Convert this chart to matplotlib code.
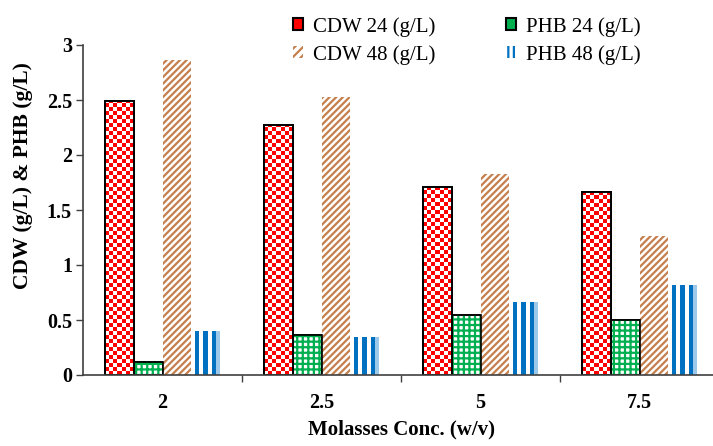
import numpy as np
import matplotlib
matplotlib.use("Agg")
import matplotlib.pyplot as plt
from matplotlib.patches import Patch

# Data
categories = ["2", "2.5", "5", "7.5"]
cdw_24 = [2.49, 2.27, 1.71, 1.66]
phb_24 = [0.12, 0.36, 0.55, 0.50]
cdw_48 = [2.86, 2.53, 1.83, 1.26]
phb_48 = [0.40, 0.35, 0.66, 0.82]
series_labels = ["CDW 24 (g/L)", "PHB 24 (g/L)", "CDW 48 (g/L)", "PHB 48 (g/L)"]
y_ticks = [0, 0.5, 1, 1.5, 2, 2.5, 3]
y_tick_labels = ["0", "0.5", "1", "1.5", "2", "2.5", "3"]

RED = "#FF0000"
GREEN = "#00B050"
BROWN = "#C47F4C"
BLUE = "#0070C0"
LIGHT_BLUE = "#9CC8EA"

plt.rcParams["font.family"] = ["Liberation Serif", "DejaVu Serif"]
plt.rcParams["hatch.linewidth"] = 1.6

fig = plt.figure(figsize=(7.13, 4.46), dpi=100)
W, H = 713, 446
ax = fig.add_axes([83 / W, 71 / H, 636 / W, 330 / H])

x = np.arange(len(categories))
w = 0.181
ax.set_xlim(-0.5, 3.5)
ax.set_ylim(0, 3)


def hex_rgb(c):
    c = c.lstrip("#")
    return [int(c[i:i + 2], 16) / 255 for i in (0, 2, 4)]


def texture(bar, rgb, row_h, zorder):
    """Fill a bar with an RGB tile pattern, clipped to the bar outline."""
    bx, bw = bar.get_x(), bar.get_width()
    nrows = rgb.shape[0]
    im = ax.imshow(rgb, extent=(bx, bx + bw, 0, nrows * row_h),
                   origin="lower", interpolation="nearest", aspect="auto",
                   zorder=zorder)
    im.set_clip_path(bar)


# CDW 24: red checkerboard with black outline
bars_cdw24 = ax.bar(x - 1.5 * w, cdw_24, w, facecolor="white",
                    edgecolor="black", linewidth=1.4, zorder=3)
cell_y = 4.0 / 110.0
for b in bars_cdw24:
    nrows = int(np.ceil(b.get_height() / cell_y)) + 1
    ii, jj = np.indices((nrows, 7))
    rgb = np.ones((nrows, 7, 3))
    rgb[(ii + jj) % 2 == 1] = hex_rgb(RED)
    texture(b, rgb, cell_y, 3.5)
ax.bar(x - 1.5 * w, cdw_24, w, facecolor="none", edgecolor="black",
       linewidth=1.4, zorder=4)

# PHB 24: green grid with black outline
ax.bar(x - 0.5 * w, phb_24, w, facecolor="white", edgecolor="black",
       linewidth=1.2, zorder=3)
ax.bar(x - 0.5 * w, phb_24, w, facecolor="none", edgecolor=GREEN,
       hatch="+++", linewidth=0, zorder=3.2)
ax.bar(x - 0.5 * w, phb_24, w, facecolor="none", edgecolor="black",
       linewidth=1.2, zorder=3.4)

# CDW 48: brown diagonal hatching
ax.bar(x + 0.5 * w, cdw_48, w, facecolor="white", edgecolor=BROWN,
       hatch="/////", linewidth=0, zorder=3)

# PHB 48: blue vertical stripes
bars_phb48 = ax.bar(x + 1.5 * w, phb_48, w, facecolor="white",
                    linewidth=0, zorder=3)
stripe_cols = ["#FFFFFF", BLUE, "#FFFFFF", BLUE, "#FFFFFF", BLUE, LIGHT_BLUE]
stripe_row = np.array([hex_rgb(c) for c in stripe_cols])
for b in bars_phb48:
    rgb = np.repeat(stripe_row[None, :, :], 2, axis=0)
    texture(b, rgb, b.get_height(), 3.5)

# Axes styling
ax.spines["top"].set_visible(False)
ax.spines["right"].set_visible(False)
for s in ("left", "bottom"):
    ax.spines[s].set_color("#404040")
    ax.spines[s].set_linewidth(1.2)
    ax.spines[s].set_zorder(5)

ax.set_yticks(y_ticks)
ax.set_yticklabels(y_tick_labels, fontsize=14.5, fontweight="bold")
ax.tick_params(axis="y", direction="out", length=5, width=1, pad=3,
               color="#404040")

ax.set_xticks([0.5, 1.5, 2.5, 3.5])
ax.set_xticklabels([])
ax.tick_params(axis="x", which="major", direction="out", length=5, width=1,
               color="#404040")
ax.set_xticks(x, minor=True)
ax.set_xticklabels(categories, minor=True, fontsize=14.5, fontweight="bold")
ax.tick_params(axis="x", which="minor", length=0, pad=13)

# Axis titles
fig.text(23 / W, 1 - 176 / H, "CDW (g/L) & PHB (g/L)", rotation=90,
         ha="center", va="center", fontsize=15.5, fontweight="bold")
fig.text(401 / W, 1 - 434 / H, "Molasses Conc. (w/v)", ha="center",
         va="baseline", fontsize=15, fontweight="bold")

# Legend with small square swatches
handles = [
    Patch(facecolor=RED, edgecolor="black", linewidth=1.5),
    Patch(facecolor="white", edgecolor=BROWN, hatch="////", linewidth=0),
    Patch(facecolor=GREEN, edgecolor="black", linewidth=1.5),
    Patch(facecolor="white", edgecolor=BLUE, hatch="|||", linewidth=0),
]
labels = [series_labels[0], series_labels[2], series_labels[1], series_labels[3]]
leg = fig.legend(handles, labels, loc="upper left",
                 bbox_to_anchor=(293 / W, 1 - 17 / H), ncol=2, frameon=False,
                 fontsize=15, handlelength=0.5, handleheight=0.5,
                 handletextpad=0.45, columnspacing=3.4, labelspacing=0.4,
                 borderpad=0, borderaxespad=0)

fig.savefig("out.png", dpi=100)
